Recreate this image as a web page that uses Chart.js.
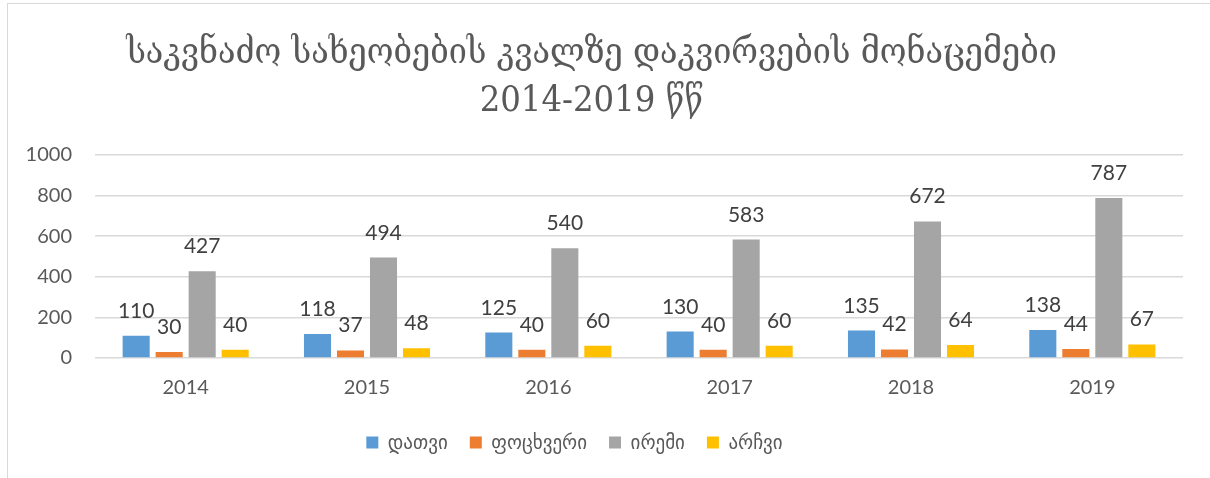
<!DOCTYPE html>
<html>
<head>
<meta charset="utf-8">
<script src="https://cdn.jsdelivr.net/npm/chart.js@4.4.1/dist/chart.umd.min.js"></script>
<style>
  html, body { margin: 0; padding: 0; background: #fff; overflow: hidden; }
  #frame {
    position: absolute; left: 7px; top: 3px; width: 1220px; height: 490px;
    border: 1px solid #d9d9d9; box-sizing: border-box;
  }
  #wrap { position: absolute; left: 0; top: 0; width: 1210px; height: 478px; }
</style>
</head>
<body>
<div id="frame"></div>
<div id="wrap"><canvas id="chart" width="1210" height="478"></canvas></div>
<script>
const years = ["2014", "2015", "2016", "2017", "2018", "2019"];
const seriesNames = ["დათვი", "ფოცხვერი", "ირემი", "არჩვი"];
const bear = [110, 118, 125, 130, 135, 138];
const lynx = [30, 37, 40, 40, 42, 44];
const deer = [427, 494, 540, 583, 672, 787];
const chamois = [40, 48, 60, 60, 64, 67];
const yTicks = [0, 200, 400, 600, 800, 1000];
const titleLines = ["საკვნაძო სახეობების კვალზე დაკვირვების მონაცემები", "2014-2019 წწ"];

const colors = ["#5B9BD5", "#ED7D31", "#A5A5A5", "#FFC000"];
const numFont = 'Lato, "Open Sans", "DejaVu Sans", sans-serif';
const geoFont = 'Lato, "DejaVu Sans", sans-serif';

// value labels above each bar
const valueLabels = {
  id: "valueLabels",
  afterDatasetsDraw(chart) {
    const ctx = chart.ctx;
    ctx.save();
    ctx.font = "21px " + numFont;
    ctx.fillStyle = "#404040";
    ctx.textAlign = "center";
    ctx.textBaseline = "alphabetic";
    chart.data.datasets.forEach((ds, i) => {
      const meta = chart.getDatasetMeta(i);
      meta.data.forEach((bar, j) => {
        ctx.fillText(String(ds.data[j]), bar.x, bar.y - 18);
      });
    });
    ctx.restore();
  }
};

// legend in the original sits a bit left of centre
const legendShift = {
  id: "legendShift",
  afterLayout(chart) {
    if (chart.legend) {
      chart.legend.left -= 17;
      chart.legend.right -= 17;
    }
  }
};

const seriesData = [bear, lynx, deer, chamois];

new Chart(document.getElementById("chart"), {
  type: "bar",
  data: {
    labels: years,
    datasets: seriesNames.map((name, i) => ({
      label: name,
      data: seriesData[i],
      backgroundColor: colors[i],
      categoryPercentage: 0.728,
      barPercentage: 0.82
    }))
  },
  options: {
    responsive: false,
    animation: false,
    layout: { padding: { left: 0, right: 27, top: 0, bottom: 16 } },
    plugins: {
      title: {
        display: true,
        text: titleLines,
        color: "#595959",
        font: { family: '"DejaVu Serif Condensed", "DejaVu Serif", serif', size: 36, weight: "normal", lineHeight: 1.33 },
        padding: { top: 30, bottom: 29 }
      },
      legend: {
        position: "bottom",
        labels: {
          boxWidth: 12,
          boxHeight: 12,
          color: "#595959",
          padding: 22,
          font: { family: geoFont, size: 19 }
        }
      },
      tooltip: { enabled: false }
    },
    scales: {
      x: {
        grid: { display: false, drawTicks: false },
        border: { display: false },
        afterFit(scale) { scale.height -= 7; },
        ticks: { color: "#595959", padding: 18, font: { family: numFont, size: 20 } }
      },
      y: {
        min: 0,
        max: 1000,
        afterFit(scale) { scale.width = 95; },
        afterBuildTicks(scale) { scale.ticks = yTicks.map(v => ({ value: v })); },
        grid: { color: "#d9d9d9", lineWidth: 1.5, drawTicks: false },
        border: { display: false },
        ticks: {
          color: "#595959",
          padding: 23,
          font: { family: numFont, size: 20 },
          callback: v => String(v)
        }
      }
    }
  },
  plugins: [valueLabels, legendShift]
});
</script>
</body>
</html>
